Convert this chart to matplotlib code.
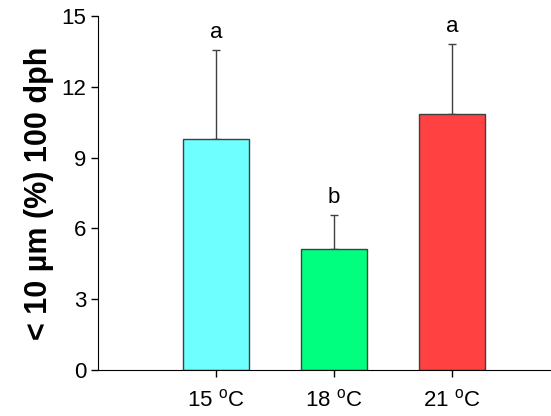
import numpy as np
import matplotlib.pyplot as plt

plt.rcParams['font.family'] = ['Liberation Sans', 'DejaVu Sans']
plt.rcParams['mathtext.fontset'] = 'custom'
plt.rcParams['mathtext.rm'] = 'Liberation Sans'

# данные
groups = ['15 $^{\\mathrm{o}}$C', '18 $^{\\mathrm{o}}$C', '21 $^{\\mathrm{o}}$C']
means = [9.77, 5.11, 10.86]
errors = [3.79, 1.44, 2.94]
letters = ['a', 'b', 'a']
colors = ['#6effff', '#00ff7f', '#ff4141']

fig = plt.figure(figsize=(5.51, 4.16), dpi=100)
ax = fig.add_axes([0.178, 0.1106, 0.822, 0.8509])

x = np.arange(1, len(groups) + 1)
ax.bar(x, means, width=0.553, color=colors, edgecolor='#404040', linewidth=1, zorder=2)
ax.errorbar(x, means, yerr=[np.zeros(len(means)), errors], fmt='none',
            ecolor='#404040', elinewidth=1, capsize=3, capthick=1, zorder=1)

for xi, m, e, lab in zip(x, means, errors, letters):
    ax.text(xi, m + e + 0.3, lab, ha='center', va='bottom', fontsize=16)

ax.set_xlim(0, 3.84)
ax.set_ylim(0, 15)
ax.set_yticks([0, 3, 6, 9, 12, 15])
ax.set_xticks(x)
ax.set_xticklabels(groups)
ax.tick_params(axis='both', labelsize=16, direction='out', length=5, width=1)
ax.tick_params(axis='x', pad=9)
ax.set_ylabel('< 10 µm (%) 100 dph', fontsize=22, fontweight='bold', labelpad=5)

ax.spines['top'].set_visible(False)
ax.spines['right'].set_visible(False)

fig.savefig('out.png', dpi=100)
